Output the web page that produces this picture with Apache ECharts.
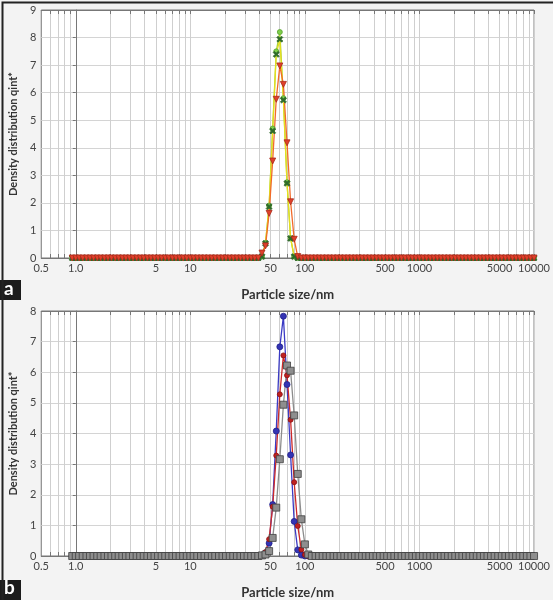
<!DOCTYPE html>
<html>
<head>
<meta charset="utf-8">
<script src="https://cdn.jsdelivr.net/npm/echarts@6/dist/echarts.min.js"></script>
<style>
  html, body { margin: 0; padding: 0; background: #f3f3f3; }
  #chart { width: 553px; height: 600px; }
</style>
</head>
<body>
<div id="chart"></div>
<script>
// measurement grid (nm), same for every run
const sizes = [0.931,
  1.00, 1.07, 1.15, 1.24, 1.33, 1.43, 1.54, 1.65, 1.78, 1.91, 2.05, 2.21, 2.37, 2.55, 2.74, 2.94,
  3.16, 3.40, 3.65, 3.92, 4.22, 4.53, 4.87, 5.23, 5.62, 6.04, 6.49, 6.98, 7.50, 8.06, 8.66, 9.31,
  10.0, 10.7, 11.5, 12.4, 13.3, 14.3, 15.4, 16.5, 17.8, 19.1, 20.5, 22.1, 23.7, 25.5, 27.4, 29.4,
  31.6, 34.0, 36.5, 39.2, 42.2, 45.3, 48.7, 52.3, 56.2, 60.4, 64.9, 69.8, 75.0, 80.6, 86.6, 93.1,
  100, 107, 115, 124, 133, 143, 154, 165, 178, 191, 205, 221, 237, 255, 274, 294,
  316, 340, 365, 392, 422, 453, 487, 523, 562, 604, 649, 698, 750, 806, 866, 931,
  1000, 1075, 1155, 1241, 1334, 1433, 1540, 1655, 1778, 1911, 2054, 2207, 2371, 2548, 2738, 2943,
  3162, 3398, 3652, 3924, 4217, 4532, 4870, 5233, 5623, 6043, 6494, 6978, 7499, 8058, 8660, 9306, 10000]

// sizes where the distributions are non-zero; everything else reads 0
const peakSizes = [42.2, 45.3, 48.7, 52.3, 56.2, 60.4, 64.9, 69.8, 75.0, 80.6, 86.6, 93.1, 100, 107]

// panel a
const qA1 = [0.05, 0.55, 1.90, 4.70, 7.50, 8.20, 5.80, 2.75, 0.72, 0.05, 0, 0, 0, 0]
const qA2 = [0.05, 0.53, 1.86, 4.61, 7.39, 7.94, 5.73, 2.71, 0.71, 0.05, 0, 0, 0, 0]
const qA3 = [0.18, 0.44, 1.62, 3.52, 5.76, 6.97, 6.30, 4.18, 2.04, 0.68, 0.05, 0, 0, 0]
// panel b
const qB1 = [0.02, 0.10, 0.42, 1.68, 4.08, 6.83, 7.83, 5.60, 3.30, 1.13, 0.20, 0.03, 0, 0]
const qB2 = [0.03, 0.13, 0.55, 1.61, 3.28, 5.28, 6.55, 5.90, 4.45, 2.41, 0.98, 0.21, 0.04, 0]
const qB3 = [0.02, 0.05, 0.16, 0.59, 1.58, 3.16, 4.94, 6.22, 6.05, 4.59, 2.68, 1.20, 0.38, 0.05]

const labelSizes = [0.5, 1, 5, 10, 50, 100, 500, 1000, 5000, 10000]
const labelTexts = ['0.5', '1.0', '5', '10', '50', '100', '500', '1000', '5000', '10000']
const gridSizes = [0.6, 0.7, 0.8, 0.9, 1, 2, 3, 4, 5, 6, 7, 8, 9, 10, 20, 30, 40, 50, 60, 70, 80, 90,
  100, 200, 300, 400, 500, 600, 700, 800, 900, 1000, 2000, 3000, 4000, 5000, 6000, 7000, 8000, 9000, 10000]

const FONT = 'Lato, "Open Sans", sans-serif'
const crossPath = 'path://M0,2L2,0L5,3L8,0L10,2L7,5L10,8L8,10L5,7L2,10L0,8L3,5Z'

const toData = vals => sizes.map(s => {
  const i = peakSizes.indexOf(s)
  return [Math.log10(s), i >= 0 ? vals[i] : 0]
})

const xAxisFor = (gridIndex, position) => ({
  type: 'value',
  gridIndex: gridIndex,
  position: position,
  min: Math.log10(0.5),
  max: Math.log10(10000),
  axisLine: { show: true, onZero: false, lineStyle: { color: '#777' } },
  axisTick: { show: true, inside: true, length: 4, customValues: gridSizes.map(Math.log10), lineStyle: { color: '#777' } },
  splitLine: { show: position === 'bottom', lineStyle: { color: '#cfcfcf', width: 1 } },
  axisLabel: position === 'bottom' ? {
    customValues: labelSizes.map(Math.log10),
    color: '#444', fontSize: 11, fontFamily: FONT, margin: 5,
    formatter: v => {
      const i = labelSizes.findIndex(s => Math.abs(Math.log10(s) - v) < 1e-6)
      return i >= 0 ? labelTexts[i] : ''
    }
  } : { show: false },
  name: position === 'bottom' ? 'Particle size/nm' : '',
  nameLocation: 'middle',
  nameGap: 30,
  nameTextStyle: { color: '#333', fontSize: 13, fontWeight: 'bold', fontFamily: FONT }
})

const yAxisFor = (gridIndex, max) => ({
  type: 'value',
  gridIndex: gridIndex,
  min: 0, max: max, interval: 1,
  axisLine: { show: true, lineStyle: { color: '#777' } },
  axisTick: { show: true, length: 3, lineStyle: { color: '#777' } },
  splitLine: { lineStyle: { color: '#d4d4d4' } },
  axisLabel: { color: '#444', fontSize: 11, fontFamily: FONT, margin: 5 },
  name: 'Density distribution qint*',
  nameLocation: 'middle',
  nameGap: 17,
  nameTextStyle: { color: '#333', fontSize: 11, fontWeight: 'bold', fontFamily: FONT }
})

const line = (vals, axisIdx, lineColor, symbol, size, fill, border, rotate) => ({
  type: 'line',
  xAxisIndex: axisIdx * 2,
  yAxisIndex: axisIdx,
  data: toData(vals),
  symbol: symbol,
  symbolSize: size,
  symbolRotate: rotate || 0,
  showAllSymbol: true,
  animation: false,
  lineStyle: { color: lineColor, width: 1.3 },
  itemStyle: { color: fill, borderColor: border, borderWidth: 0.8 },
  z: 3
})

const chart = echarts.init(document.getElementById('chart'), null, { renderer: 'canvas' })
chart.setOption({
  backgroundColor: '#f3f3f3',
  animation: false,
  grid: [
    { left: 33, top: 10, width: 505, height: 248, show: true, backgroundColor: '#fff', borderColor: '#777' },
    { left: 33, top: 311, width: 505, height: 249, show: true, backgroundColor: '#fff', borderColor: '#777' }
  ],
  xAxis: [xAxisFor(0, 'bottom'), xAxisFor(0, 'top'), xAxisFor(1, 'bottom'), xAxisFor(1, 'top')],
  yAxis: [yAxisFor(0, 9), yAxisFor(1, 8)],
  series: [
    line(qA1, 0, '#a6d23a', 'circle', 5, '#7fd04a', '#5aa030'),
    line(qA2, 0, '#e6df1e', crossPath, 6, '#2f6a2a', '#2f6a2a'),
    line(qA3, 0, '#f26a2a', 'triangle', 6, '#e0402a', '#a82a1a', 180),
    line(qB1, 1, '#3b3bc4', 'circle', 6, '#3434b4', '#20208a'),
    line(qB2, 1, '#cc2a2a', 'circle', 5, '#c02020', '#8a1010'),
    line(qB3, 1, '#8c8c8c', 'rect', 7, '#8e8e8e', '#3f3f3f')
  ],
  graphic: [
    { type: 'rect', left: 0, top: 280, shape: { width: 21, height: 20 }, style: { fill: '#1c1c1c' } },
    { type: 'text', left: 4, top: 279, style: { text: 'a', fill: '#fff', font: 'bold 19px ' + FONT } },
    { type: 'rect', left: 0, top: 580, shape: { width: 21, height: 20 }, style: { fill: '#1c1c1c' } },
    { type: 'text', left: 4, top: 578, style: { text: 'b', fill: '#fff', font: 'bold 19px ' + FONT } },
    { type: 'rect', left: 0, top: 0, shape: { width: 553, height: 600 }, style: { fill: 'none', stroke: '#222', lineWidth: 2 }, silent: true }
  ]
})
</script>
</body>
</html>
